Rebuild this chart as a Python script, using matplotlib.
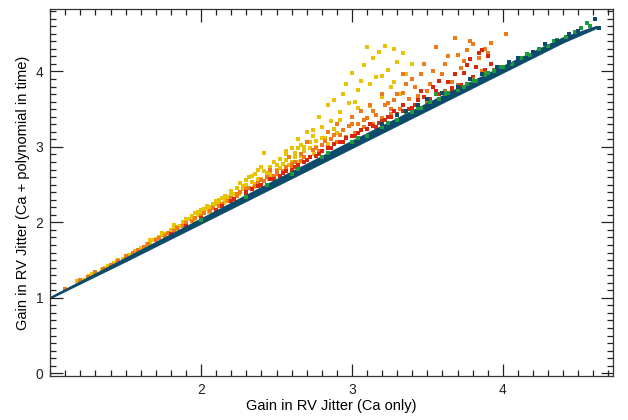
import matplotlib
matplotlib.use("Agg")
import matplotlib.pyplot as plt
from matplotlib.ticker import MultipleLocator

# values
yellow_x = [1.18, 1.22, 1.26, 1.30, 1.34, 1.38, 1.42, 1.45, 1.48, 1.52, 1.55, 1.58, 1.60, 1.63, 1.66,
            1.68, 1.70, 1.72, 1.74, 1.76, 1.78, 1.80, 1.82, 1.84, 1.86, 1.88, 1.90, 1.92, 1.94, 1.96,
            1.98, 2.00, 2.02, 2.04, 2.06, 2.08, 2.10, 2.12, 2.14, 2.16, 2.18, 2.20, 2.22, 2.24, 2.26,
            2.28, 2.30, 2.32, 2.34, 2.36, 2.38, 2.40, 2.42, 2.44, 2.46, 2.48, 2.50, 2.52, 2.54, 2.56,
            2.58, 2.60, 2.62, 2.64, 2.66, 2.68, 2.70, 2.72, 2.74, 2.76, 2.78, 2.80, 2.82, 2.84, 2.86,
            2.88, 2.90, 2.92, 2.94, 2.96, 2.98, 3.00, 3.02, 3.04, 3.06, 3.08, 3.10, 3.12, 3.14, 3.16,
            3.18, 3.20, 3.22, 3.24, 3.26, 3.28, 3.30, 3.32, 3.34, 3.36, 3.40,
            1.62, 1.85, 1.95, 2.05, 2.15, 2.25, 2.35, 2.45, 2.55, 2.65, 2.75,
            1.20, 1.28, 1.36, 1.44, 1.50, 1.56, 1.64, 1.70, 1.76, 1.80, 1.86, 1.90, 1.96, 2.00, 2.06,
            2.10, 2.16, 2.20, 2.26, 2.30, 2.36, 2.40, 2.46, 2.50,
            2.30, 2.34, 2.38, 2.42, 2.46, 2.50, 2.52, 2.56, 2.60, 2.62, 2.66, 2.68, 2.72, 2.76, 2.80,
            2.84, 2.88, 2.92, 2.40, 2.28, 2.20, 2.12, 2.04, 1.98, 1.90, 1.82, 1.74, 1.66, 2.56, 2.64,
            2.74, 3.20, 3.28, 3.12, 3.04, 2.98]
yellow_y = [1.22, 1.24, 1.29, 1.33, 1.37, 1.42, 1.46, 1.50, 1.52, 1.57, 1.60, 1.63, 1.66, 1.68, 1.73,
            1.76, 1.77, 1.80, 1.83, 1.84, 1.86, 1.90, 1.92, 1.94, 1.95, 2.00, 2.02, 2.05, 2.08, 2.12,
            2.10, 2.16, 2.18, 2.22, 2.20, 2.25, 2.28, 2.26, 2.32, 2.35, 2.33, 2.42, 2.38, 2.46, 2.52,
            2.44, 2.50, 2.60, 2.54, 2.64, 2.70, 2.58, 2.92, 2.66, 2.74, 2.80, 2.70, 2.84, 2.78, 2.90,
            2.76, 2.98, 2.86, 3.10, 3.02, 2.94, 3.20, 3.06, 3.14, 3.00, 3.40, 3.26, 3.12, 3.56, 3.34,
            3.62, 3.18, 3.46, 3.70, 3.84, 3.28, 3.98, 3.60, 3.76, 3.88, 4.08, 4.32, 3.54, 4.18, 3.92,
            4.26, 3.66, 4.34, 4.02, 3.80, 4.30, 4.12, 3.70, 4.24, 3.96, 4.10,
            1.65, 1.91, 2.03, 2.14, 2.26, 2.37, 2.47, 2.58, 2.68, 2.80, 2.90,
            1.23, 1.32, 1.40, 1.49, 1.56, 1.62, 1.71, 1.78, 1.84, 1.88, 1.95, 2.00, 2.06, 2.12, 2.17,
            2.24, 2.29, 2.36, 2.40, 2.46, 2.51, 2.56, 2.62, 2.66,
            2.56, 2.62, 2.58, 2.68, 2.64, 2.76, 2.72, 2.82, 2.80, 2.92, 2.88, 3.00, 2.98, 3.08, 3.12,
            3.04, 3.24, 3.36, 2.74, 2.48, 2.38, 2.30, 2.18, 2.14, 2.05, 1.97, 1.86, 1.76, 2.94, 2.98,
            3.22, 3.94, 3.86, 3.84, 3.52, 3.58]

orange_x = [1.10, 1.20, 1.30, 1.40, 1.50, 1.58, 1.65, 1.72, 1.78, 1.84, 1.90, 1.96, 2.02, 2.08, 2.14,
            2.20, 2.26, 2.32, 2.38, 2.44, 2.50, 2.56, 2.62, 2.68, 2.74, 2.80, 2.86, 2.92, 2.98, 3.04,
            3.10, 3.16, 3.22, 3.28, 3.34, 3.40, 3.44, 3.48, 3.52, 3.56, 3.60, 3.64, 3.68, 3.72, 3.76,
            3.80, 3.84, 3.88, 3.92, 4.02,
            2.70, 2.90, 3.00, 3.12, 3.20, 3.26, 3.36, 3.46, 3.58, 3.66, 3.74, 3.86, 2.58, 2.46, 2.84, 3.06,
            1.25, 1.35, 1.45, 1.55, 1.62, 1.70, 1.76, 1.82, 1.88, 1.94, 2.00, 2.06, 2.12, 2.18, 2.24,
            2.30, 2.36, 2.42, 2.48, 2.54, 2.60, 2.66, 2.72, 2.78, 2.84, 2.90, 2.96, 3.02, 3.08, 3.14,
            3.20, 3.26, 3.32,
            2.24, 2.30, 2.40, 2.50, 2.60, 2.66, 2.76, 2.82, 2.88, 2.94, 3.00, 3.08, 3.14, 3.24, 3.30,
            3.38, 3.42, 3.50, 3.54, 3.62, 3.70, 3.78, 3.90, 3.34]
orange_y = [1.12, 1.23, 1.34, 1.44, 1.55, 1.64, 1.72, 1.79, 1.86, 1.92, 1.99, 2.06, 2.12, 2.19, 2.25,
            2.32, 2.40, 2.45, 2.52, 2.60, 2.64, 2.74, 2.80, 2.86, 2.96, 3.02, 3.10, 3.16, 3.28, 3.30,
            3.38, 3.42, 3.55, 3.62, 3.72, 3.90, 3.68, 4.10, 3.84, 4.32, 3.96, 4.20, 4.44, 4.04, 4.28,
            4.36, 4.18, 4.30, 4.38, 4.50,
            3.06, 3.30, 3.40, 3.56, 3.70, 3.50, 3.84, 3.96, 3.70, 3.86, 4.14, 4.00, 2.86, 2.70, 3.20, 3.48,
            1.28, 1.38, 1.49, 1.60, 1.67, 1.76, 1.82, 1.89, 1.95, 2.02, 2.09, 2.15, 2.22, 2.28, 2.35,
            2.41, 2.48, 2.55, 2.61, 2.68, 2.74, 2.81, 2.87, 2.94, 3.00, 3.07, 3.13, 3.19, 3.26, 3.31,
            3.38, 3.44, 3.50,
            2.38, 2.44, 2.56, 2.68, 2.78, 2.90, 2.98, 3.08, 3.16, 3.22, 3.30, 3.36, 3.48, 3.58, 3.70,
            3.64, 3.80, 3.74, 4.00, 4.10, 4.22, 4.40, 4.24, 3.96]

red_x = [1.80, 1.90, 2.00, 2.10, 2.20, 2.30, 2.40, 2.48, 2.56, 2.64, 2.72, 2.80, 2.88, 2.96, 3.04,
         3.12, 3.20, 3.28, 3.34, 3.40, 3.46, 3.52, 3.58, 3.62, 3.68, 3.72, 3.76, 3.80, 3.84, 3.88,
         3.92, 3.86, 3.44, 3.54, 3.66, 3.78, 3.00, 3.16, 3.24, 2.76, 2.52, 2.34,
         2.14, 2.22, 2.30, 2.38, 2.46, 2.54, 2.62, 2.70, 2.78, 2.86, 2.94, 3.02, 3.10, 3.18, 3.26,
         3.34, 3.42, 3.50, 3.58, 3.66,
         2.60, 2.68, 2.84, 2.92, 3.06, 3.14, 3.22, 3.30, 3.38, 3.48, 3.56, 3.64, 3.74, 3.82, 3.90]
red_y = [1.84, 1.95, 2.06, 2.17, 2.28, 2.39, 2.50, 2.58, 2.68, 2.76, 2.86, 2.94, 3.04, 3.12, 3.18,
         3.30, 3.34, 3.48, 3.56, 3.52, 3.74, 3.64, 3.88, 3.70, 3.96, 3.82, 4.08, 3.92, 4.24, 4.02,
         4.10, 4.28, 3.62, 3.80, 3.76, 4.16, 3.14, 3.26, 3.40, 2.88, 2.62, 2.44,
         2.22, 2.31, 2.40, 2.48, 2.57, 2.65, 2.74, 2.82, 2.91, 2.99, 3.07, 3.15, 3.24, 3.32, 3.40,
         3.47, 3.56, 3.63, 3.70, 3.78,
         2.70, 2.80, 2.98, 3.06, 3.22, 3.28, 3.36, 3.44, 3.50, 3.66, 3.74, 3.86, 3.98, 4.06, 4.20]

brown_x = [3.50, 3.62, 3.70, 3.80, 3.88, 3.94]
brown_y = [3.60, 3.74, 3.82, 3.90, 3.98, 4.02]

green_x = [2.00, 2.30, 2.60, 2.80, 3.00, 3.10, 3.20, 3.30, 3.40, 3.46, 3.52, 3.58, 3.64, 3.70, 3.76,
           3.82, 3.88, 3.94, 4.00, 4.06, 4.12, 4.18, 4.24, 4.30, 4.36, 4.42, 4.48, 4.56, 4.58,
           3.36, 3.56, 3.74, 3.90,
           2.44, 2.64, 2.84, 3.04, 3.24, 3.44, 3.62, 3.80, 3.98, 4.16, 4.34, 4.52]
green_y = [2.03, 2.34, 2.64, 2.86, 3.06, 3.14, 3.27, 3.36, 3.46, 3.52, 3.60, 3.64, 3.72, 3.76, 3.84,
           3.88, 3.95, 4.00, 4.06, 4.10, 4.18, 4.22, 4.30, 4.34, 4.42, 4.46, 4.52, 4.64, 4.60,
           3.46, 3.70, 3.80, 3.98,
           2.50, 2.71, 2.92, 3.12, 3.32, 3.52, 3.70, 3.87, 4.06, 4.23, 4.40, 4.57]

blue_x = [3.20, 3.36, 3.44, 3.50, 3.60, 3.70, 3.78, 3.86, 3.96, 4.04, 4.10, 4.20, 4.28, 4.36, 4.44,
          4.50, 4.61, 4.64, 3.30]
blue_y = [3.30, 3.48, 3.56, 3.64, 3.72, 3.80, 3.90, 3.96, 4.06, 4.12, 4.18, 4.26, 4.36, 4.40, 4.50,
          4.54, 4.70, 4.58, 3.42]

# solid strip where the points pile up along the diagonal
band_x = [1.00, 1.50, 2.00, 2.50, 3.00, 3.50, 4.00, 4.40, 4.62]
band_low = [1.00, 1.49, 1.99, 2.49, 2.99, 3.49, 3.99, 4.39, 4.58]
band_up = [1.01, 1.53, 2.05, 2.57, 3.08, 3.58, 4.07, 4.45, 4.60]

plt.rcParams["font.family"] = ["Liberation Sans", "DejaVu Sans"]

fig = plt.figure(figsize=(6.28, 4.2), dpi=100)
ax = fig.add_axes([0.08, 0.104, 0.896, 0.875])

dot = 6.5
ax.scatter(yellow_x, yellow_y, s=dot, marker="s", c="#e8c400", linewidths=0)
ax.scatter(orange_x, orange_y, s=dot, marker="s", c="#f07a1a", linewidths=0)
ax.scatter(red_x, red_y, s=dot, marker="s", c="#d8280c", linewidths=0)
ax.scatter(brown_x, brown_y, s=dot, marker="s", c="#a8782a", linewidths=0)
ax.fill_between(band_x, band_low, band_up, color="#0d4a6b", linewidth=1.2, edgecolor="#0d4a6b")
ax.scatter(green_x, green_y, s=dot, marker="s", c="#1c9a3e", linewidths=0)
ax.scatter(blue_x, blue_y, s=dot, marker="s", c="#0d4a6b", linewidths=0)

ax.set_xlim(1.0, 4.73)
ax.set_ylim(-0.04, 4.83)
ax.set_xticks([2, 3, 4])
ax.set_yticks([0, 1, 2, 3, 4])
ax.xaxis.set_minor_locator(MultipleLocator(0.1))
ax.yaxis.set_minor_locator(MultipleLocator(0.1))
ax.tick_params(which="both", direction="in", top=True, right=True, colors="#222222",
               labelsize=10, width=0.9)
ax.tick_params(which="major", length=9, pad=5)
ax.tick_params(which="minor", length=4.5)
for sp in ax.spines.values():
    sp.set_color("#333333")
    sp.set_linewidth(0.9)

ax.set_xlabel("Gain in RV Jitter (Ca only)", fontsize=10.5, labelpad=1)
ax.set_ylabel("Gain in RV Jitter (Ca + polynomial in time)", fontsize=10.5, labelpad=4)

fig.savefig("out.png", dpi=100)
